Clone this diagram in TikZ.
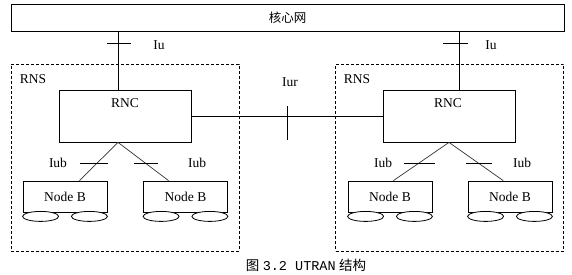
\documentclass[tikz,border=0pt]{standalone}
\usepackage{fontspec}
\setmainfont{Liberation Serif}
\newfontfamily\cjk{Noto Sans CJK SC}
\newfontfamily\capmono{Liberation Mono}
\usepackage{tikz}
\usetikzlibrary{shapes.geometric,positioning,calc}

\begin{document}
\begin{tikzpicture}[
    x=1pt, y=-1pt,
    line width=0.8pt,
    netbox/.style={rectangle, draw=black, minimum width=553pt, minimum height=27pt, font=\cjk\fontsize{12.5}{14}\selectfont},
    rnsbox/.style={rectangle, draw=black, dash pattern=on 3pt off 2pt, minimum width=228pt, minimum height=187pt},
    rncbox/.style={rectangle, draw=black, minimum width=132pt, minimum height=52pt},
    nodeb/.style={rectangle, draw=black, minimum width=84pt, minimum height=31pt, font=\fontsize{13.5}{15}\selectfont},
    antenna/.style={ellipse, draw=black, fill=white, minimum width=36pt, minimum height=10pt, inner sep=0pt},
    lbl/.style={font=\fontsize{13.5}{15}\selectfont, inner sep=1pt},
    link/.style={line width=0.7pt, draw=black!80}
]
    \useasboundingbox (0,0) rectangle (572,274);

    \node[netbox] (core) at (287.5,17.5) {核心网};

    \node[rnsbox] (rnsL) at (125,157.5) {};
    \node[rnsbox] (rnsR) at (449.5,157.5) {};
    \node[lbl] at (33,79) {RNS};
    \node[lbl] at (357,79) {RNS};

    \node[rncbox] (rncL) at (125,116) {};
    \node[rncbox] (rncR) at (449,116) {};
    \node[lbl] at (125,103) {RNC};
    \node[lbl] at (448,103) {RNC};

    \node[nodeb] (nbL1) at (65,196.5) {Node B};
    \node[nodeb] (nbL2) at (185.5,196.5) {Node B};
    \node[nodeb] (nbR1) at (390,196.5) {Node B};
    \node[nodeb] (nbR2) at (510,196.5) {Node B};

    % antennas under each Node B
    \foreach \nb in {nbL1,nbL2,nbR1,nbR2} {
        \node[antenna] (\nb-a) at ($(\nb.south west)+(18,4)$) {};
        \node[antenna] (\nb-b) at ($(\nb.south east)+(-18,4)$) {};
    }

    % Iu
    \draw (rncL.north -| 118,0) -- coordinate[pos=0.8] (tIuL) (118,0 |- core.south);
    \draw (rncR.north -| 459,0) -- coordinate[pos=0.8] (tIuR) (459,0 |- core.south);
    \draw (tIuL) ++(-11,0) -- ++(24,0);
    \draw (tIuR) ++(-16,0) -- ++(25,0);
    \node[lbl] at (159,45) {Iu};
    \node[lbl] at (491,45) {Iu};

    % Iur
    \draw (rncL.east) -- coordinate (tIur) (rncR.west);
    \draw (tIur) ++(0,-10) -- ++(0,34);
    \node[lbl] at (290,82) {Iur};

    % Iub
    \draw[link] (118,0 |- rncL.south) -- coordinate[pos=0.54] (tL1) ($(nbL1.north west)!0.67!(nbL1.north east)$);
    \draw[link] (118,0 |- rncL.south) -- coordinate[pos=0.54] (tL2) ($(nbL2.north west)!0.3!(nbL2.north east)$);
    \draw[link] (rncR.south) -- coordinate[pos=0.54] (tR1) ($(nbR1.north west)!0.54!(nbR1.north east)$);
    \draw[link] (rncR.south) -- coordinate[pos=0.54] (tR2) ($(nbR2.north west)!0.42!(nbR2.north east)$);
    \draw (tL1) ++(-17,0) -- ++(28,0);
    \draw (tL2) ++(-11,0) -- ++(24,0);
    \draw (tR1) ++(-15,0) -- ++(31,0);
    \draw (tR2) ++(-12,0) -- ++(26,0);
    \node[lbl] at (58,163) {Iub};
    \node[lbl] at (197,163) {Iub};
    \node[lbl] at (383,163) {Iub};
    \node[lbl] at (522,163) {Iub};

    \node[font=\fontsize{13.5}{15}\selectfont] (caption) at (306,265) {{\cjk 图} {\capmono 3.2 UTRAN} {\cjk 结构}};
\end{tikzpicture}
\end{document}
